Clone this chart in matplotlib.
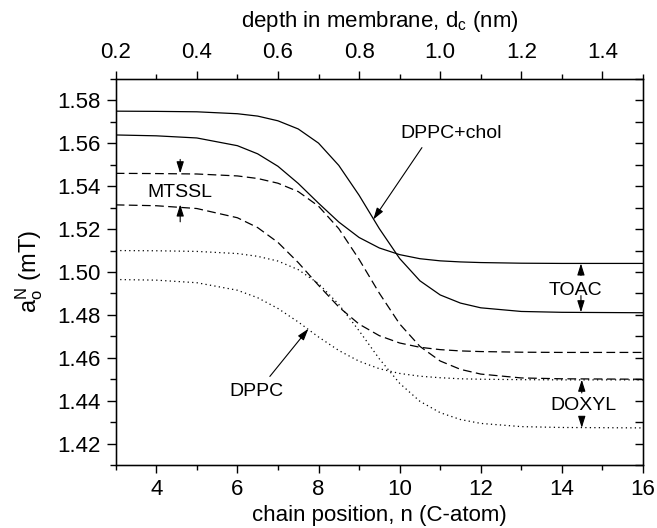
import matplotlib
matplotlib.use('Agg')
import matplotlib.pyplot as plt
from matplotlib.ticker import MultipleLocator, FormatStrFormatter

plt.rcParams['font.family'] = ['Liberation Sans', 'DejaVu Sans']
plt.rcParams['mathtext.fontset'] = 'custom'
plt.rcParams['mathtext.rm'] = 'Liberation Sans'
plt.rcParams['mathtext.it'] = 'Liberation Sans'

# chain position (C-atom)
n_pos = [3, 4, 5, 6, 6.5, 7, 7.5, 8, 8.5, 9, 9.5, 10, 10.5, 11, 11.5, 12, 13, 14, 16]

# TOAC (solid)
toac_chol = [1.5750, 1.5749, 1.5747, 1.5738, 1.5727, 1.5705, 1.5667, 1.5601, 1.5497, 1.5358,
             1.5202, 1.5063, 1.4959, 1.4893, 1.4855, 1.4833, 1.4816, 1.4812, 1.4810]
toac_dppc = [1.5639, 1.5635, 1.5625, 1.5589, 1.5551, 1.5493, 1.5413, 1.5321, 1.5233, 1.5161,
             1.5112, 1.5081, 1.5062, 1.5052, 1.5047, 1.5044, 1.5041, 1.5040, 1.5040]
# MTSSL (dashed)
mtssl_chol = [1.5460, 1.5459, 1.5457, 1.5448, 1.5436, 1.5414, 1.5375, 1.5307, 1.5202, 1.5059,
              1.4901, 1.4758, 1.4653, 1.4585, 1.4546, 1.4524, 1.4506, 1.4502, 1.4500]
mtssl_dppc = [1.5313, 1.5309, 1.5296, 1.5253, 1.5207, 1.5138, 1.5044, 1.4938, 1.4837, 1.4757,
              1.4703, 1.4669, 1.4649, 1.4638, 1.4632, 1.4629, 1.4626, 1.4625, 1.4625]
# DOXYL (dotted)
doxyl_chol = [1.5100, 1.5099, 1.5096, 1.5086, 1.5073, 1.5051, 1.5011, 1.4946, 1.4849, 1.4726,
              1.4595, 1.4481, 1.4397, 1.4344, 1.4312, 1.4294, 1.4279, 1.4275, 1.4273]
doxyl_dppc = [1.4965, 1.4962, 1.4950, 1.4915, 1.4880, 1.4830, 1.4767, 1.4697, 1.4634, 1.4584,
              1.4549, 1.4527, 1.4514, 1.4507, 1.4502, 1.4500, 1.4498, 1.4497, 1.4497]

fig = plt.figure(figsize=(6.57, 5.28), dpi=100)
ax = fig.add_axes([0.1761, 0.1193, 0.8026, 0.7311])

lw = 0.9
ax.plot(n_pos, toac_chol, color='k', lw=lw)
ax.plot(n_pos, toac_dppc, color='k', lw=lw)
ax.plot(n_pos, mtssl_chol, color='k', lw=lw, dashes=(7, 3.5))
ax.plot(n_pos, mtssl_dppc, color='k', lw=lw, dashes=(7, 3.5))
ax.plot(n_pos, doxyl_chol, color='k', lw=lw, linestyle=(0, (1, 2.6)))
ax.plot(n_pos, doxyl_dppc, color='k', lw=lw, linestyle=(0, (1, 2.6)))

tick_fs = 16
label_fs = 16
fs = 14

ax.set_xlim(3, 16)
ax.set_ylim(1.41, 1.59)
ax.xaxis.set_major_locator(MultipleLocator(2))
ax.xaxis.set_minor_locator(MultipleLocator(1))
ax.yaxis.set_major_locator(MultipleLocator(0.02))
ax.yaxis.set_minor_locator(MultipleLocator(0.01))
ax.yaxis.set_major_formatter(FormatStrFormatter('%.2f'))
ax.tick_params(axis='x', which='major', direction='out', length=6, width=1, labelsize=tick_fs, pad=4)
ax.tick_params(axis='x', which='minor', direction='out', length=3.6, width=1)
ax.tick_params(axis='y', which='major', direction='out', length=6.5, width=1, labelsize=tick_fs, pad=4)
ax.tick_params(axis='y', which='minor', direction='out', length=4, width=1)
for s in ax.spines.values():
    s.set_linewidth(1.0)

ax.set_xlabel('chain position, n (C-atom)', fontsize=label_fs, labelpad=4)
ax.set_ylabel(r'$\mathregular{a_o^N}$ (mT)', fontsize=17, labelpad=9)

# top axis: depth in membrane
axt = ax.twiny()
axt.set_xlim(0.2, 1.5)
axt.xaxis.set_major_locator(MultipleLocator(0.2))
axt.set_xticks([0.3, 0.5, 0.7, 0.9, 1.1, 1.3, 1.5], minor=True)
axt.xaxis.set_major_formatter(FormatStrFormatter('%.1f'))
axt.tick_params(axis='x', which='major', direction='out', length=5.5, width=1, labelsize=tick_fs, pad=6)
axt.tick_params(axis='x', which='minor', direction='out', length=3.6, width=1)
axt.set_xlabel(r'depth in membrane, d$_\mathregular{c}$ (nm)', fontsize=label_fs, labelpad=11)

# right ticks pointing in
axr = ax.twinx()
axr.set_ylim(1.41, 1.59)
axr.yaxis.set_major_locator(MultipleLocator(0.02))
axr.yaxis.set_minor_locator(MultipleLocator(0.01))
axr.tick_params(axis='y', which='both', direction='in', length=6, width=1, labelright=False)

ap = dict(arrowstyle='-|>,head_length=0.7,head_width=0.22', color='k', lw=0.8,
          shrinkA=0, shrinkB=0, mutation_scale=10)

ax.annotate('', xy=(9.35, 1.5245), xytext=(10.55, 1.558), arrowprops=ap)
ax.text(11.28, 1.5645, 'DPPC+chol', fontsize=fs, ha='center', va='center')

ax.annotate('', xy=(7.75, 1.4735), xytext=(6.8, 1.4513), arrowprops=ap)
ax.text(6.48, 1.4443, 'DPPC', fontsize=fs, ha='center', va='center')

ax.text(4.59, 1.5373, 'MTSSL', fontsize=fs, ha='center', va='center')
ax.annotate('', xy=(4.59, 1.5460), xytext=(4.59, 1.5525), arrowprops=ap)
ax.annotate('', xy=(4.59, 1.5315), xytext=(4.59, 1.5234), arrowprops=ap)

ax.text(14.34, 1.4914, 'TOAC', fontsize=fs, ha='center', va='center')
ax.annotate('', xy=(14.47, 1.5040), xytext=(14.47, 1.4984), arrowprops=ap)
ax.annotate('', xy=(14.47, 1.4812), xytext=(14.47, 1.4890), arrowprops=ap)

ax.text(14.53, 1.4377, 'DOXYL', fontsize=fs, ha='center', va='center')
ax.annotate('', xy=(14.49, 1.4498), xytext=(14.49, 1.4436), arrowprops=ap)
ax.annotate('', xy=(14.49, 1.4273), xytext=(14.49, 1.4320), arrowprops=ap)

fig.savefig('out.png', dpi=100)
